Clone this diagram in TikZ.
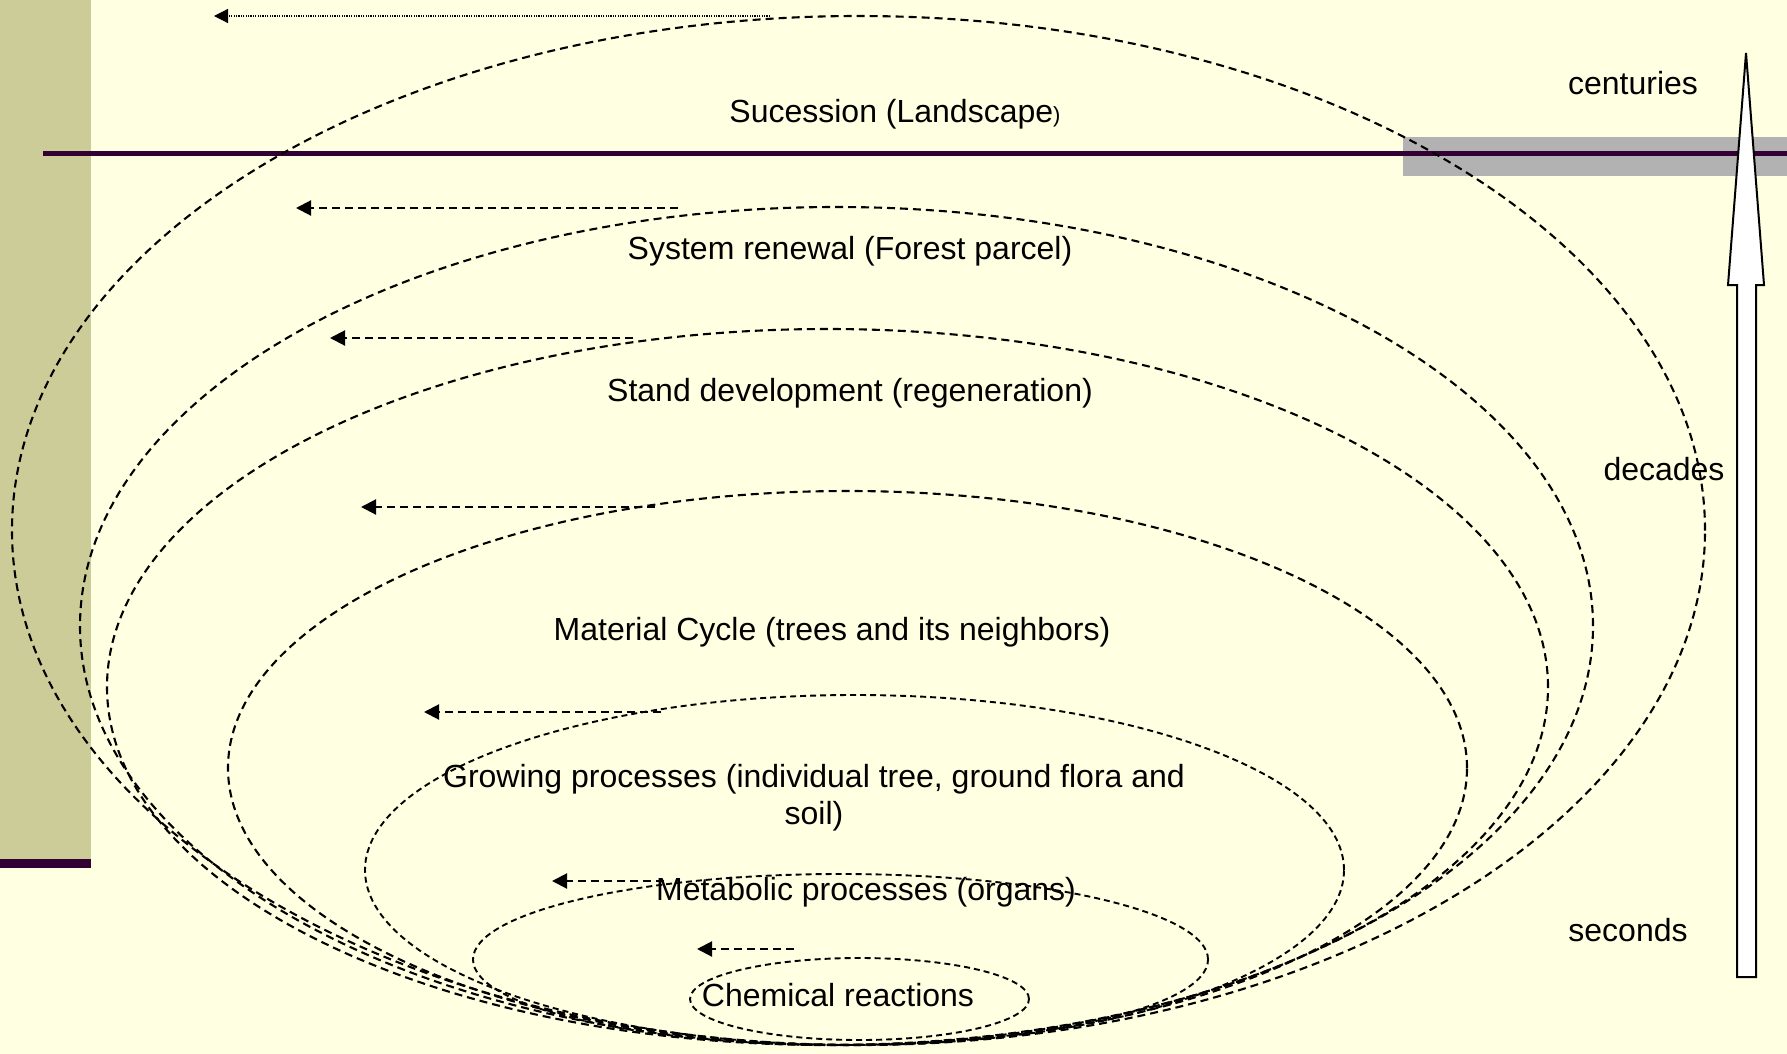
\documentclass[tikz,border=0pt]{standalone}
\usepackage{fontspec}
\setmainfont{Liberation Sans}
\usetikzlibrary{arrows.meta}
\definecolor{bg}{RGB}{255,255,226}
\definecolor{khaki}{RGB}{204,204,153}
\definecolor{plum}{RGB}{51,0,51}
\definecolor{band}{RGB}{178,178,178}
\begin{document}
\begin{tikzpicture}[x=0.5pt,y=-0.5pt,
  lbl/.style={font=\fontsize{16}{19}\selectfont, inner sep=0pt, anchor=base},
  loop/.style={draw=black, line width=1.05pt, dash pattern=on 4pt off 2.5pt},
  smallloop/.style={draw=black, line width=0.95pt, dash pattern=on 3pt off 2pt},
  back/.style={draw=black, line width=1.05pt, dash pattern=on 4pt off 2.5pt, -{Triangle[length=7.5pt,width=7.5pt]}},
  dotback/.style={draw=black, line width=0.6pt, dash pattern=on 0.6pt off 0.6pt, -{Triangle[length=7pt,width=7pt]}},
]
\fill[bg] (0,0) rectangle (1787,1054);
\useasboundingbox (0,0) rectangle (1787,1054);
% decoration of the slide
\fill[khaki] (0,0) rectangle (91,859);
\fill[plum] (0,859) rectangle (91,868);
\fill[band] (1403,137) rectangle (1787,176);
\draw[plum, line width=2.5pt] (43,153) -- (1787,153);

% nested cycles
\coordinate (c1) at (858.5,530.5);
\coordinate (c2) at (836.5,626);
\coordinate (c3) at (827.5,687);
\coordinate (c4) at (847.5,768);
\coordinate (c5) at (854.5,870);
\coordinate (c6) at (840.5,959.5);
\coordinate (c7) at (859.5,999);
\draw[loop] (c1) ellipse [x radius=423.25pt, y radius=257.25pt];
\draw[loop] (c2) ellipse [x radius=378.25pt, y radius=209.5pt];
\draw[loop] (c3) ellipse [x radius=360.25pt, y radius=179pt];
\draw[loop] (c4) ellipse [x radius=309.75pt, y radius=138.5pt];
\draw[smallloop] (c5) ellipse [x radius=244.75pt, y radius=87.5pt];
\draw[smallloop] (c6) ellipse [x radius=183.75pt, y radius=42.75pt];
\draw[smallloop] (c7) ellipse [x radius=84.75pt, y radius=20.5pt];

% return arrows
\coordinate (a1s) at (770,16);   \coordinate (a1e) at (214,16);
\coordinate (a2s) at (678,208);  \coordinate (a2e) at (296,208);
\coordinate (a3s) at (633,338);  \coordinate (a3e) at (330,338);
\coordinate (a4s) at (655,507);  \coordinate (a4e) at (361,507);
\coordinate (a5s) at (661,712);  \coordinate (a5e) at (424,712);
\coordinate (a6s) at (664,881);  \coordinate (a6e) at (552,881);
\coordinate (a7s) at (794,949);  \coordinate (a7e) at (697,949);
\draw[dotback] (a1s) -- (a1e);
\draw[back] (a2s) -- (a2e);
\draw[back] (a3s) -- (a3e);
\draw[back] (a4s) -- (a4e);
\draw[back] (a5s) -- (a5e);
\draw[back] (a6s) -- (a6e);
\draw[back] (a7s) -- (a7e);

% time scale arrow
\draw[fill=white, draw=black, line width=1pt, line join=miter]
  (1737,977) -- (1737,285) -- (1728,285) -- (1746,53) -- (1764,285)
  -- (1756,285) -- (1756,977) -- cycle;

% labels
\node[lbl] (n1) at (895,122) {Sucession (Landscape{\fontsize{11}{13}\selectfont )}};
\node[lbl] (n2) at (850,259) {System renewal (Forest parcel)};
\node[lbl] (n3) at (850,401) {Stand development (regeneration)};
\node[lbl] (n4) at (832,640) {Material Cycle (trees and its neighbors)};
\node[lbl] (n5a) at (814,787) {Growing processes (individual tree, ground flora and};
\node[lbl] (n5b) at (814,824) {soil)};
\node[lbl] (n6) at (866,900) {Metabolic processes (organs)};
\node[lbl] (n7) at (838,1006) {Chemical reactions};
\node[lbl] (t1) at (1633,95) {centuries};
\node[lbl] (t2) at (1664,480) {decades};
\node[lbl] (t3) at (1628,941) {seconds};
\end{tikzpicture}
\end{document}
